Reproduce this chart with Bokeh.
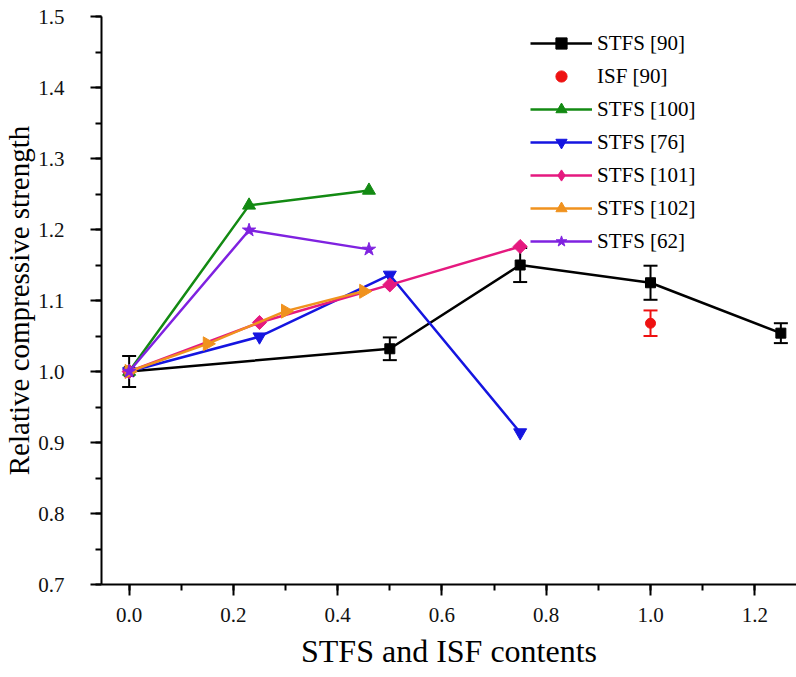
import numpy as np
from bokeh.plotting import figure
from bokeh.models import (ColumnDataSource, Whisker, TeeHead, Legend, LegendItem,
                          SingleIntervalTicker, Range1d, PrintfTickFormatter)
from bokeh.embed import file_html
from bokeh.resources import INLINE

# ---- data ----
stfs90_x = [0.0, 0.5, 0.75, 1.0, 1.25]
stfs90_y = [1.0, 1.032, 1.150, 1.125, 1.054]
stfs90_err = [0.022, 0.016, 0.024, 0.024, 0.014]

isf90_x = [1.0]
isf90_y = [1.068]
isf90_err = [0.018]

stfs100_x = [0.0, 0.23, 0.46]
stfs100_y = [1.0, 1.234, 1.255]

stfs76_x = [0.0, 0.25, 0.5, 0.75]
stfs76_y = [1.0, 1.049, 1.136, 0.914]

stfs101_x = [0.0, 0.25, 0.5, 0.75]
stfs101_y = [1.0, 1.069, 1.122, 1.176]

stfs102_x = [0.0, 0.15, 0.3, 0.45]
stfs102_y = [1.0, 1.039, 1.085, 1.113]

stfs62_x = [0.0, 0.23, 0.46]
stfs62_y = [1.0, 1.199, 1.172]

FONT = "Liberation Serif"

p = figure(width=796, height=677, output_backend="svg", toolbar_location=None,
           x_range=Range1d(-0.053, 1.28), y_range=Range1d(0.7, 1.5),
           min_border_left=99, min_border_right=0, min_border_top=16,
           min_border_bottom=93)
p.outline_line_color = None
p.xgrid.visible = False
p.ygrid.visible = False
p.background_fill_color = "white"
p.border_fill_color = "white"

p.xaxis.ticker = SingleIntervalTicker(interval=0.2, num_minor_ticks=2)
p.yaxis.ticker = SingleIntervalTicker(interval=0.1, num_minor_ticks=2)
p.xaxis.formatter = PrintfTickFormatter(format="%.1f")
p.yaxis.formatter = PrintfTickFormatter(format="%.1f")
for ax in (p.xaxis[0], p.yaxis[0]):
    ax.axis_line_color = "black"
    ax.axis_line_width = 2
    ax.major_tick_line_color = "black"
    ax.major_tick_line_width = 2
    ax.minor_tick_line_color = "black"
    ax.minor_tick_line_width = 2
    ax.major_tick_in = 0
    ax.minor_tick_in = 0
    ax.major_tick_out = 11
    ax.minor_tick_out = 6
    ax.major_label_text_font = FONT
    ax.major_label_text_font_size = "21px"
    ax.major_label_text_color = "#111111"
    ax.axis_label_text_font = FONT
    ax.axis_label_text_font_style = "normal"
    ax.axis_label_text_color = "black"

p.xaxis.axis_label = "STFS and ISF contents"
p.xaxis.axis_label_text_font_size = "32px"
p.xaxis.major_label_standoff = 12
p.xaxis.axis_label_standoff = 8
p.yaxis.axis_label = "Relative compressive strength"
p.yaxis.axis_label_text_font_size = "29px"
p.yaxis.major_label_standoff = 26
p.yaxis.axis_label_standoff = 0

# error bars
src90 = ColumnDataSource(dict(x=stfs90_x,
                              lo=[y - e for y, e in zip(stfs90_y, stfs90_err)],
                              hi=[y + e for y, e in zip(stfs90_y, stfs90_err)]))
w1 = Whisker(source=src90, base="x", lower="lo", upper="hi", line_color="black",
             line_width=2,
             upper_head=TeeHead(size=14, line_color="black", line_width=2),
             lower_head=TeeHead(size=14, line_color="black", line_width=2))
p.add_layout(w1)
srcisf = ColumnDataSource(dict(x=isf90_x,
                               lo=[y - e for y, e in zip(isf90_y, isf90_err)],
                               hi=[y + e for y, e in zip(isf90_y, isf90_err)]))
w2 = Whisker(source=srcisf, base="x", lower="lo", upper="hi", line_color="#ee1111",
             line_width=2,
             upper_head=TeeHead(size=14, line_color="#ee1111", line_width=2),
             lower_head=TeeHead(size=14, line_color="#ee1111", line_width=2))
p.add_layout(w2)

LW = 2.5
items = []

c = "black"
l = p.line(stfs90_x, stfs90_y, line_color=c, line_width=LW)
m = p.scatter(stfs90_x, stfs90_y, marker="square", size=10, fill_color=c, line_color=c)
items.append(LegendItem(label="STFS [90]", renderers=[l, m]))

c = "#ee1111"
m = p.scatter(isf90_x, isf90_y, marker="circle", size=10, fill_color=c, line_color=c)
items.append(LegendItem(label="ISF [90]", renderers=[m]))

c = "#138a13"
l = p.line(stfs100_x, stfs100_y, line_color=c, line_width=LW)
m = p.scatter(stfs100_x, stfs100_y, marker="triangle", size=13, fill_color=c, line_color=c)
items.append(LegendItem(label="STFS [100]", renderers=[l, m]))

c = "#1515e0"
l = p.line(stfs76_x, stfs76_y, line_color=c, line_width=LW)
m = p.scatter(stfs76_x, stfs76_y, marker="inverted_triangle", size=13, fill_color=c, line_color=c)
items.append(LegendItem(label="STFS [76]", renderers=[l, m]))

c = "#e5197f"
l = p.line(stfs101_x, stfs101_y, line_color=c, line_width=LW)
p.scatter(stfs101_x, stfs101_y, marker="square", angle=np.pi / 4, angle_units="rad",
          size=10, fill_color=c, line_color=c)
# legend-only glyph (NaN data, nothing drawn in the plot) so the legend shows a diamond
leg_d = p.scatter(x=[np.nan], y=[np.nan], marker="diamond", size=14, fill_color=c, line_color=c)
items.append(LegendItem(label="STFS [101]", renderers=[l, leg_d]))

c = "#f0921e"
l = p.line(stfs102_x, stfs102_y, line_color=c, line_width=LW)
m = p.scatter(stfs102_x, stfs102_y, marker="triangle", angle=-np.pi / 2, angle_units="rad",
              size=14, fill_color=c, line_color=c)
items.append(LegendItem(label="STFS [102]", renderers=[l, m]))

c = "#7f22e0"
l = p.line(stfs62_x, stfs62_y, line_color=c, line_width=LW)
m = p.scatter(stfs62_x, stfs62_y, marker="star", size=14, fill_color=c, line_color=c)
items.append(LegendItem(label="STFS [62]", renderers=[l, m]))

legend = Legend(items=items, location=(429, 329))
legend.border_line_color = None
legend.background_fill_alpha = 0
legend.label_text_font = FONT
legend.label_text_font_size = "21px"
legend.label_text_color = "black"
legend.glyph_width = 62
legend.glyph_height = 28
legend.label_height = 28
legend.spacing = 5
legend.padding = 5
legend.margin = 0
legend.label_standoff = 5
p.add_layout(legend, "center")

open("out.html", "w").write(file_html(p, INLINE))
